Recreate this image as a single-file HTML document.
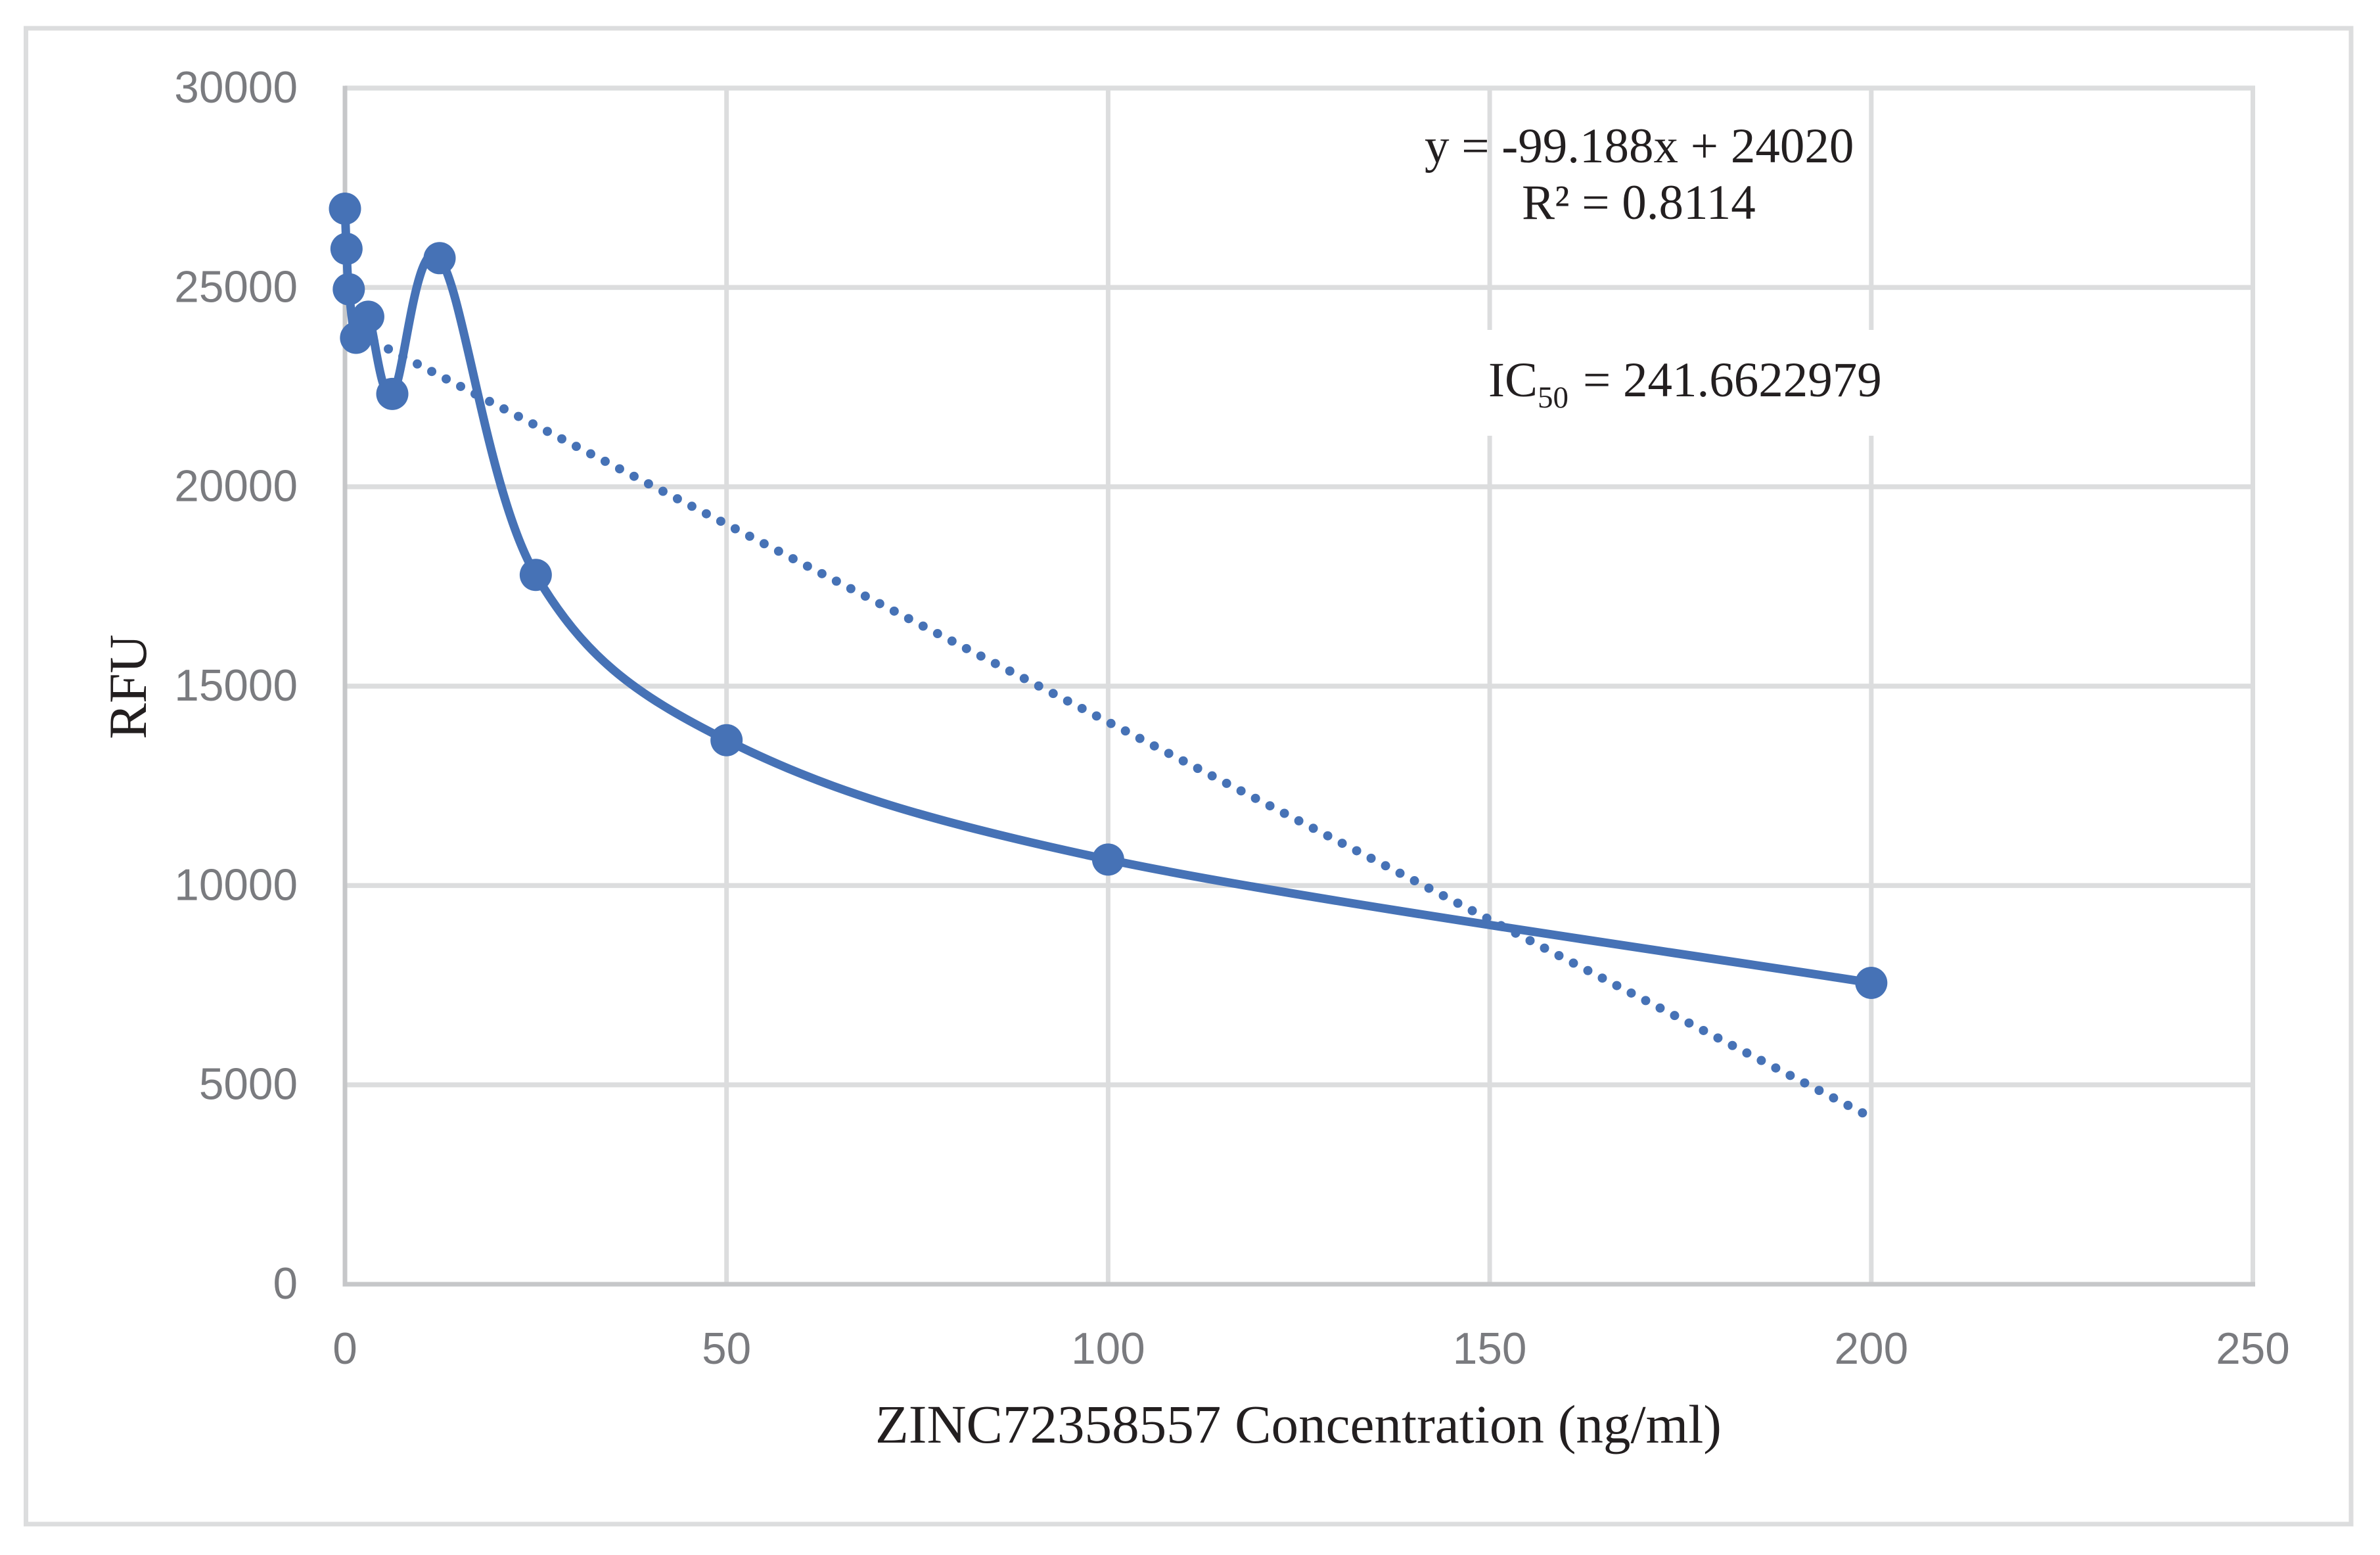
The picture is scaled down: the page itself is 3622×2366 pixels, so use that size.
<!DOCTYPE html>
<html lang="en">
<head>
<meta charset="utf-8">
<title>ZINC72358557 RFU vs Concentration</title>
<style>
  html, body { margin: 0; padding: 0; background: #ffffff; }
  svg { display: block; }
  .tick { font-family: "Liberation Sans", sans-serif; font-size: 67.5px; fill: #7a7b7f; }
  .serif { font-family: "Liberation Serif", serif; fill: #231f20; }
</style>
</head>
<body>
<svg id="chart" xmlns="http://www.w3.org/2000/svg" width="3622" height="2366" viewBox="0 0 3622 2366">
  <rect x="0" y="0" width="3622" height="2366" fill="#ffffff"/>
  <rect x="39.5" y="43" width="3538.5" height="2276" fill="none" stroke="#dcddde" stroke-width="7"/>
  <g id="grid"></g>
  <g id="axes"></g>
  <rect x="2250" y="502" width="620" height="161" fill="#ffffff"/>
  <g id="ticks"></g>
  <path id="trend" fill="none" stroke="#4672b6" stroke-width="14" stroke-linecap="round" stroke-dasharray="0 24.77"></path>
  <path id="curve" fill="none" stroke="#4672b6" stroke-width="13" stroke-linejoin="round"></path>
  <g id="points"></g>
  <text class="serif" x="2168" y="247" font-size="75">y = -99.188x + 24020</text>
  <text class="serif" x="2316" y="333" font-size="75">R² = 0.8114</text>
  <text class="serif" x="2265" y="603" font-size="75">IC<tspan font-size="47" dy="17">50</tspan><tspan dy="-17" dx="22">= 241.6622979</tspan></text>
  <text class="serif" x="1332" y="2195" font-size="83" textLength="1288" lengthAdjust="spacingAndGlyphs">ZINC72358557 Concentration (ng/ml)</text>
  <text class="serif" transform="translate(222 1045) rotate(-90)" text-anchor="middle" font-size="82">RFU</text>
</svg>
<script>
const xValues = [0, 0.2, 0.5, 1.45, 3.05, 6.2, 12.4, 25, 50, 100, 200];
const yValues = [26975, 25967, 24955, 23736, 24266, 22330, 25734, 17790, 13645, 10650, 7557];
const xTickValues = [0, 50, 100, 150, 200, 250];
const yTickValues = [0, 5000, 10000, 15000, 20000, 25000, 30000];
const trendSlope = -99.188;
const trendIntercept = 24020;
const trendXRange = [1.9, 200];

const NS = 'http://www.w3.org/2000/svg';
const plotLeft = 525, plotRight = 3428.5, plotTop = 134, plotBottom = 1954;
const xMax = 250, yMax = 30000;
function sx(v) { return plotLeft + (v / xMax) * (plotRight - plotLeft); }
function sy(v) { return plotBottom - (v / yMax) * (plotBottom - plotTop); }
function make(tag, parent, attrs) {
  const el = document.createElementNS(NS, tag);
  Object.keys(attrs).forEach(function (k) { el.setAttribute(k, attrs[k]); });
  parent.appendChild(el);
  return el;
}
const grid = document.getElementById('grid');
const axes = document.getElementById('axes');
const ticks = document.getElementById('ticks');
const points = document.getElementById('points');

yTickValues.forEach(function (v) {
  if (v === 0) return;
  const line = make('line', grid, { x1: plotLeft, x2: plotRight + 3.5, y1: sy(v), y2: sy(v), stroke: '#dcddde', 'stroke-width': 7.5 });
  
  
});
xTickValues.forEach(function (v) {
  if (v === 0) return;
  const line = make('line', grid, { x1: sx(v), x2: sx(v), y1: plotTop, y2: plotBottom, stroke: '#dcddde', 'stroke-width': 7 });
  
  
});

const yAxisLine = make('line', axes, { x1: plotLeft, x2: plotLeft, y1: plotTop - 3.5, y2: plotBottom + 3.5, stroke: '#c6c7c9', 'stroke-width': 7 });


const xAxisLine = make('line', axes, { x1: plotLeft - 3.5, x2: plotRight + 3.5, y1: plotBottom, y2: plotBottom, stroke: '#c6c7c9', 'stroke-width': 7 });



yTickValues.forEach(function (v) {
  const t = make('text', ticks, { x: 453, y: sy(v) + 22, 'text-anchor': 'end', class: 'tick' });
  
  
  t.textContent = String(v);
});
xTickValues.forEach(function (v) {
  const t = make('text', ticks, { x: sx(v), y: 2075, 'text-anchor': 'middle', class: 'tick' });
  
  
  t.textContent = String(v);
});

document.getElementById('trend').setAttribute('d',
  'M' + sx(trendXRange[0]) + ' ' + sy(trendSlope * trendXRange[0] + trendIntercept) +
  ' L' + sx(trendXRange[1]) + ' ' + sy(trendSlope * trendXRange[1] + trendIntercept));

const pts = xValues.map(function (x, i) { return [sx(x), sy(yValues[i])]; });
let d = 'M' + pts[0][0] + ' ' + pts[0][1];
for (let i = 0; i < pts.length - 1; i++) {
  const p0 = pts[Math.max(i - 1, 0)], p1 = pts[i], p2 = pts[i + 1], p3 = pts[Math.min(i + 2, pts.length - 1)];
  const c1x = p1[0] + (p2[0] - p0[0]) / 6, c1y = p1[1] + (p2[1] - p0[1]) / 6;
  const c2x = p2[0] - (p3[0] - p1[0]) / 6, c2y = p2[1] - (p3[1] - p1[1]) / 6;
  d += ' C' + c1x + ' ' + c1y + ' ' + c2x + ' ' + c2y + ' ' + p2[0] + ' ' + p2[1];
}
document.getElementById('curve').setAttribute('d', d);

pts.forEach(function (p) {
  const c = make('circle', points, { cx: p[0], cy: p[1], r: 24.5, fill: '#4672b6' });
  
  
});
</script>
</body>
</html>
